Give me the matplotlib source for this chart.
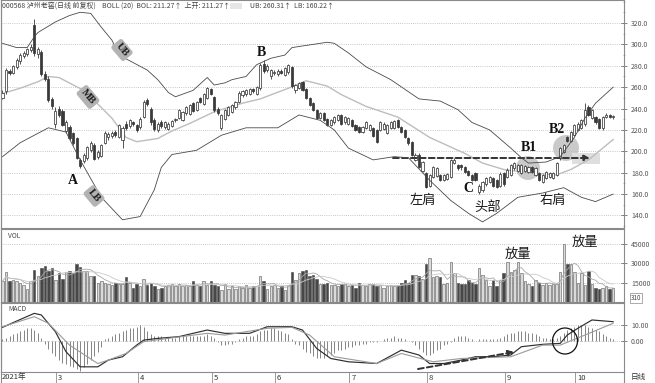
"""Luzhou Laojiao daily chart with BOLL, volume and MACD panels (head-and-shoulders bottom)."""
import numpy as np
import pandas as pd
import matplotlib
matplotlib.use("Agg")
import matplotlib.pyplot as plt
import matplotlib.transforms as mtransforms
from matplotlib.patches import Ellipse, Rectangle
from matplotlib.lines import Line2D

# --- daily candles (first bar is the last day of January) ---
open_ = [250, 256, 275, 273, 279, 284, 289, 291, 295, 318, 291, 293, 272, 268, 249, 226,
         240, 238, 219, 223, 217, 212, 192, 191, 194, 201, 206, 195, 196, 208, 213, 214,
         218, 213, 211, 226, 224, 227, 225, 223, 232, 248, 240, 229, 220, 227, 223, 221,
         224, 229, 231, 229, 236, 235, 245, 239, 250, 244, 250, 258, 251, 240, 222, 230,
         234, 237, 241, 246, 253, 254, 254, 258, 254, 259, 282, 276, 270, 273, 272, 275,
         271, 274, 279, 257, 259, 265, 258, 250, 245, 239, 231, 236, 230, 225, 227, 229,
         234, 227, 226, 229, 225, 223, 218, 222, 220, 222, 220, 220, 221, 217, 222, 222,
         229, 223, 220, 212, 209, 192, 197, 182, 180, 168, 176, 177, 178, 173, 174, 176,
         189, 187, 187, 185, 182, 178, 180, 162, 164, 169, 171, 175, 173, 168, 180, 176,
         178, 184, 182, 180, 182, 181, 185, 178, 180, 171, 175, 176, 175, 178, 194, 199,
         213, 210, 215, 220, 222, 226, 241, 231, 232, 230, 222, 232, 234, 232]
high = [257, 278, 277, 281, 287, 292, 294, 297, 300, 324, 298, 295, 275, 270, 251, 241,
        242, 240, 229, 225, 218, 213, 194, 198, 205, 210, 208, 201, 207, 219, 218, 219,
        220, 226, 224, 228, 230, 228, 226, 232, 248, 250, 241, 231, 227, 229, 228, 227,
        229, 231, 240, 238, 242, 244, 246, 247, 251, 255, 260, 259, 252, 241, 235, 240,
        242, 244, 247, 256, 257, 258, 259, 259, 261, 283, 285, 282, 277, 276, 277, 277,
        279, 282, 280, 263, 265, 266, 259, 251, 246, 240, 237, 237, 231, 230, 233, 235,
        235, 233, 232, 230, 226, 224, 224, 228, 226, 223, 221, 228, 227, 226, 228, 229,
        230, 224, 221, 213, 210, 198, 198, 191, 181, 179, 186, 185, 179, 179, 180, 193,
        194, 188, 188, 186, 183, 179, 181, 169, 172, 176, 177, 176, 174, 181, 181, 184,
        188, 190, 188, 188, 187, 186, 186, 185, 181, 179, 182, 181, 181, 190, 204, 207,
        214, 219, 226, 227, 230, 245, 243, 240, 233, 231, 233, 236, 235, 234]
low = [249, 254, 271, 272, 277, 282, 287, 289, 293, 289, 287, 270, 266, 246, 240, 222,
       232, 224, 217, 211, 206, 193, 184, 189, 192, 199, 192, 193, 195, 207, 211, 212,
       213, 212, 203, 220, 222, 224, 218, 221, 231, 242, 225, 219, 218, 222, 221, 220,
       223, 227, 230, 228, 234, 234, 237, 238, 245, 243, 249, 253, 237, 234, 220, 229,
       233, 236, 240, 245, 251, 252, 253, 255, 253, 257, 273, 274, 268, 271, 270, 272,
       270, 272, 259, 255, 258, 256, 249, 242, 238, 230, 230, 228, 224, 224, 226, 228,
       225, 226, 225, 223, 219, 217, 217, 221, 219, 213, 208, 219, 220, 216, 221, 221,
       222, 217, 212, 206, 196, 191, 184, 181, 166, 167, 175, 176, 172, 172, 173, 175,
       188, 183, 183, 180, 177, 172, 172, 160, 162, 168, 170, 167, 166, 167, 168, 175,
       177, 183, 181, 179, 181, 180, 180, 177, 172, 170, 174, 175, 174, 177, 192, 198,
       209, 209, 214, 219, 221, 224, 233, 230, 226, 221, 220, 231, 231, 230]
close = [255, 276, 273, 280, 285, 290, 292, 296, 298, 292, 296, 272, 268, 248, 242, 238,
         234, 225, 227, 212, 208, 194, 186, 197, 204, 208, 193, 199, 206, 217, 216, 217,
         215, 225, 222, 222, 229, 226, 220, 230, 246, 244, 227, 221, 226, 224, 227, 226,
         228, 230, 239, 237, 241, 243, 238, 246, 246, 254, 259, 254, 239, 236, 234, 239,
         241, 243, 246, 255, 256, 257, 258, 256, 260, 281, 275, 280, 276, 274, 275, 273,
         278, 281, 261, 262, 264, 257, 250, 243, 239, 231, 236, 229, 225, 229, 232, 234,
         226, 232, 231, 224, 220, 218, 223, 227, 225, 214, 209, 227, 226, 225, 227, 228,
         223, 218, 213, 208, 197, 197, 185, 190, 167, 178, 185, 184, 173, 178, 179, 192,
         192, 184, 185, 181, 178, 173, 173, 168, 171, 175, 176, 168, 167, 179, 169, 183,
         187, 189, 187, 187, 186, 185, 181, 184, 173, 178, 181, 180, 180, 189, 203, 206,
         210, 218, 225, 226, 229, 239, 234, 239, 227, 222, 232, 234, 232, 233]
volume_k = [16, 23, 16, 17, 16, 15, 13, 10, 16, 25, 20, 26, 28, 24, 26, 17,
            22, 18, 23, 24, 22, 29, 27, 24, 24, 20, 20, 15, 16, 15, 14, 13,
            15, 14, 14, 19, 15, 11, 14, 12, 18, 13, 15, 12, 10, 11, 12, 13,
            14, 12, 14, 12, 13, 12, 16, 13, 12, 16, 13, 16, 13, 12, 9, 14,
            10, 12, 10, 12, 11, 13, 11, 12, 12, 20, 16, 10, 12, 13, 11, 12,
            9, 13, 23, 17, 22, 24, 25, 20, 21, 18, 14, 14, 15, 13, 13, 12,
            14, 14, 12, 13, 11, 15, 13, 12, 14, 14, 12, 13, 11, 12, 13, 12,
            13, 15, 17, 15, 21, 21, 20, 18, 29, 34, 19, 20, 19, 14, 15, 31,
            22, 15, 14, 14, 17, 15, 14, 26, 21, 17, 12, 17, 12, 17, 22, 31,
            23, 25, 31, 22, 16, 14, 12, 17, 15, 13, 15, 13, 14, 14, 23, 45,
            29, 29, 23, 15, 22, 13, 24, 14, 11, 10, 11, 12, 10, 11]
macd_hist = [1, 2, 3, 4, 5, 6, 7, 8, 8, 7, 5, 2,
             -2, -5, -8, -10, -12, -14, -15, -16, -17, -18, -19, -17, -15, -12, -10, -7, -4,
             1, 2, 3, 4, 5, 6, 7, 8, 8, 9, 10, 9, 6, 4,
             3, 3, 3, 2, 2, 2, 2, 3, 3, 3, 3, 3, 3, 3, 3, 4, 3, 2,
             -1, -3, -3, -2, -2, -1,
             1, 2, 3, 3, 3, 4, 6, 7, 7, 8, 8, 7, 6, 5, 4, 1,
             -2, -3, -5, -7, -8, -10, -11, -11, -11, -10, -9, -8, -6, -6, -5, -4, -4, -3, -3,
             -2, -2, -1, -1, -1, 0,
             1, 2, 2, 3, 2, 2, 1, 0,
             -1, -3, -5, -7, -9, -9, -8, -6, -5, -3, -2, -1,
             2, 3, 3, 3, 2, 1,
             0, 1, 1, 1, 1, 1, 1,
             2, 3, 4, 5, 5, 6, 6, 6, 5, 5, 4, 3, 2, 2, 1, 1,
             2, 3, 5, 7, 8, 9, 10, 10, 10, 9, 8, 7, 6, 4, 3, 2, 1]

# --- BOLL(20) bands at sample days ---
ub_day = [-1, 3, 6, 8, 9, 14, 18, 21, 24, 27, 30, 32, 36, 40, 43, 46, 48, 53, 57, 59, 62, 64,
          68, 71, 75, 79, 81, 85, 91, 93, 97, 102, 109, 117, 123, 128, 132, 137, 143, 146,
          148, 153, 157, 161, 164, 167, 172]
ub_val = [301, 297, 297, 307, 311, 321, 327, 330, 329, 316, 304, 290, 283, 276, 267, 255, 251,
          257, 269, 262, 264, 267, 270, 281, 287, 290, 297, 299, 302, 301, 292, 279, 267, 249,
          247, 239, 227, 220, 203, 194, 189, 190, 195, 213, 231, 245, 260]
mb_day = [-1, 4, 9, 12, 15, 22, 27, 30, 34, 37, 43, 47, 52, 59, 67, 72, 80, 85, 91, 95, 102,
          111, 120, 130, 135, 141, 148, 156, 160, 165, 172]
mb_val = [254, 259, 265, 270, 269, 257, 241, 231, 213, 209, 212, 219, 226, 237, 245, 249, 259,
          266, 261, 253, 242, 232, 213, 198, 189, 183, 180, 178, 183, 192, 211]
lb_day = [-1, 4, 12, 17, 21, 27, 33, 38, 42, 44, 47, 54, 61, 68, 72, 77, 83, 89, 93, 97, 104,
          110, 114, 120, 126, 131, 135, 139, 145, 152, 158, 163, 167, 172]
lb_val = [195, 208, 222, 218, 192, 157, 136, 139, 164, 185, 197, 201, 215, 222, 222, 222, 234,
          229, 220, 203, 192, 195, 194, 173, 154, 142, 134, 142, 157, 161, 166, 157, 153, 160]

# --- MACD DIF / DEA read at sample days ---
dif_day = [-1, 3, 8, 10, 14, 17, 21, 26, 29, 33, 37, 39, 43, 49, 57, 62, 69, 74, 81, 84, 88,
           92, 97, 105, 112, 117, 120, 124, 129, 133, 138, 143, 146, 152, 157, 159, 162, 166, 172]
dif_val = [8.5, 12.5, 17.4, 16.4, 5.7, -7.0, -16.6, -16.6, -12.3, -10.2, -2.8, 0.4, 1.5, 2.6,
           6.8, 4.7, 4.7, 8.9, 8.9, 6.8, -4.9, -11.3, -13.4, -14.5, -6.0, -9.1, -14.5, -14.5,
           -12.3, -10.2, -10.2, -9.1, -3.8, -2.3, -1.7, 3.6, 7.9, 13.2, 12.1]
dea_day = [-1, 8, 12, 18, 26, 29, 34, 39, 46, 57, 62, 74, 81, 86, 93, 105, 112, 121, 129, 143,
           152, 157, 164, 172]
dea_val = [8.9, 15.3, 11.1, -2.8, -14.5, -12.3, -8.1, -0.6, 1.5, 4.7, 3.6, 7.9, 8.5, 3.6, -10.2,
           -14.5, -8.1, -13.4, -11.3, -10.2, -2.8, -2.8, 3.6, 11.1]

month_day = [-1, 15, 38, 59, 77, 98, 120, 142, 162]
month_label = ["2021年", "3", "4", "5", "6", "7", "8", "9", "10"]

W, H = 655, 383
plt.rcParams["font.family"] = ["Noto Sans CJK SC", "DejaVu Sans"]
DARK = "#3a3a3a"
GRID = dict(linestyle=(0, (1, 1.6)), color="#b4b4b4", linewidth=0.6)


def box(x0, y0, x1, y1):
    return [x0 / W, 1 - y1 / H, (x1 - x0) / W, (y1 - y0) / H]


def fpt(px, py):
    return px / W, 1 - py / H


fig = plt.figure(figsize=(W / 100, H / 100), dpi=100)
ax_p = fig.add_axes(box(1, 0, 624, 228))
ax_v = fig.add_axes(box(1, 229, 624, 302), sharex=ax_p)
ax_m = fig.add_axes(box(1, 303, 624, 372), sharex=ax_p)

days = np.arange(len(close)) - 1
o, h, l, c = (np.array(a, dtype=float) for a in (open_, high, low, close))
up = c >= o

# --- price panel ---
ax_p.vlines(days, l, h, color=DARK, lw=0.6, zorder=2)
body_lo = np.minimum(o, c)
body_h = np.maximum(np.abs(c - o), 0.7)
ax_p.bar(days[up], body_h[up], bottom=body_lo[up], width=0.6, facecolor="white",
         edgecolor=DARK, lw=0.55, zorder=3)
ax_p.bar(days[~up], body_h[~up], bottom=body_lo[~up], width=0.6, facecolor=DARK,
         edgecolor=DARK, lw=0.55, zorder=3)
ax_p.plot(ub_day, ub_val, color="#4a4a4a", lw=0.6, zorder=4)
ax_p.plot(mb_day, mb_val, color="#bdbdbd", lw=1.0, zorder=1.5)
ax_p.plot(lb_day, lb_val, color="#4a4a4a", lw=0.6, zorder=4)
ax_p.set_ylim(128.3, 341.5)
ax_p.set_yticks(np.arange(140, 321, 20))
ax_p.set_yticks(np.arange(130, 341, 10), minor=True)
ax_p.yaxis.set_major_formatter("{x:.1f}")

# --- volume panel ---
vol = np.array(volume_k) * 1000.0
ax_v.bar(days[up], vol[up], width=0.7, facecolor="#dadada", edgecolor="#555555", lw=0.4)
ax_v.bar(days[~up], vol[~up], width=0.7, facecolor="#474747", edgecolor="#474747", lw=0.4)
vs = pd.Series(vol)
ax_v.plot(days, vs.rolling(5, min_periods=1).mean(), color="#a8a8a8", lw=0.6)
ax_v.plot(days, vs.rolling(10, min_periods=1).mean(), color="#c9c9c9", lw=0.6)
ax_v.set_ylim(0, 56200)
ax_v.set_yticks([15000, 30000, 45000])
ax_v.yaxis.set_major_formatter("{x:.0f}")

# --- MACD panel ---
ax_m.vlines(days, 0, macd_hist, color="#707070", lw=0.6)
ax_m.plot(dif_day, dif_val, color="#2e2e2e", lw=0.85)
ax_m.plot(dea_day, dea_val, color="#9a9a9a", lw=0.8)
ax_m.set_ylim(-19.9, 24.0)
ax_m.set_yticks([0, 10])
ax_m.yaxis.set_major_formatter("{x:.2f}")

for ax in (ax_p, ax_v, ax_m):
    ax.set_xlim(-1.42, 175.07)
    ax.yaxis.tick_right()
    ax.tick_params(axis="x", bottom=False, labelbottom=False)
    ax.tick_params(axis="y", which="major", direction="inout", length=4, width=0.5,
                   colors="#555555", labelsize=5, pad=3)
    ax.tick_params(axis="y", which="minor", direction="inout", length=2, width=0.4,
                   colors="#777777")
    ax.yaxis.grid(True, which="major", **GRID)
    ax.set_axisbelow(True)
    for sp in ax.spines.values():
        sp.set_color("#8a8a8a")
        sp.set_linewidth(0.8)

# panel captions
fig.text(*fpt(2, 6), "000568 泸州老窖(日线 前复权)", fontsize=5, color="#444", va="center")
fig.text(*fpt(102, 6), "BOLL (20)  BOL: 211.27↑  上开: 211.27↑", fontsize=5, color="#444",
         va="center")
fig.add_artist(Rectangle(fpt(230, 9), 12 / W, 6 / H, transform=fig.transFigure,
                         fc="#e6e6e6", ec="none"))
fig.text(*fpt(250, 6), "UB: 260.31↑  LB: 160.22↑", fontsize=5, color="#444", va="center")
fig.text(*fpt(8, 236), "VOL", fontsize=4.8, color="#444", va="center")
fig.text(*fpt(8, 309), "MACD", fontsize=4.8, color="#444", va="center")
fig.text(*fpt(636, 298), "310", fontsize=4.5, color="#444", va="center", ha="center",
         bbox=dict(boxstyle="square,pad=0.15", fc="white", ec="#888", lw=0.5))

# date row under the MACD panel
trans = mtransforms.blended_transform_factory(ax_m.transData, fig.transFigure)
for d, lab in zip(month_day, month_label):
    if d > 0:
        fig.add_artist(Line2D([d - 0.7, d - 0.7], [0, 11 / H], transform=trans,
                              color="#8a8a8a", lw=0.6))
    fig.text(d - 0.2, 5.5 / H, lab, transform=trans, fontsize=5.5, color="#333",
             va="center", ha="left")
fig.add_artist(Line2D([624 / W, 624 / W], [0, 11 / H], transform=fig.transFigure,
                      color="#8a8a8a", lw=0.8))
fig.text(*fpt(638, 377), "日线", fontsize=5.5, color="#333", va="center", ha="center")
fig.add_artist(Line2D([1 / W, 1 / W], [0, 1], transform=fig.transFigure, color="#8a8a8a",
                      lw=0.8))

# band labels
for lab, (px, py) in {"UB": (122, 50), "MB": (88, 97), "LB": (94, 196)}.items():
    fig.text(*fpt(px, py), lab, rotation=-50, ha="center", va="center", fontsize=7.5,
             family="Liberation Serif", fontweight="bold", color="#1e1e1e",
             bbox=dict(boxstyle="round,pad=0.25", fc="#b3b3b3", ec="none"))

# point letters
for lab, (px, py) in {"A": (73, 181), "B": (261, 52), "C": (468, 189),
                      "B1": (529, 148), "B2": (557, 130)}.items():
    fig.text(*fpt(px, py), lab, ha="center", va="center", fontsize=10,
             family="Liberation Serif", fontweight="bold", color="#111")

for lab, (px, py) in {"左肩": (423, 201), "头部": (488, 207), "右肩": (553, 201)}.items():
    fig.text(*fpt(px, py), lab, ha="center", va="center", fontsize=9.5, color="#1a1a1a")
for px, py in [(518, 254), (585, 242)]:
    fig.text(*fpt(px, py), "放量", ha="center", va="center", fontsize=9.5, color="#1a1a1a")

# highlight circles around B1 / B2 and neckline arrow
for px, py, r in [(528, 168, 12), (566, 148, 13)]:
    ax_p.add_patch(Ellipse(fpt(px, py), 2 * r / W, 2 * r / H, transform=fig.transFigure,
                           fc="#b9b9b9", ec="none", alpha=0.75, zorder=1))
ax_p.add_patch(Rectangle(fpt(572, 164), 28 / W, 11 / H, transform=fig.transFigure,
                         fc="#dedede", ec="none", zorder=1))
ax_p.annotate("", xy=(590, H - 158), xycoords="figure pixels",
              xytext=(393, H - 158), textcoords="figure pixels",
              arrowprops=dict(arrowstyle="-|>", linestyle=(0, (3, 1.6)), color="#333",
                              lw=1.4, mutation_scale=8, shrinkA=0, shrinkB=0))

# MACD divergence arrow and golden-cross circle
ax_m.annotate("", xy=(514, H - 352), xycoords="figure pixels",
              xytext=(418, H - 369), textcoords="figure pixels",
              arrowprops=dict(arrowstyle="-|>", linestyle=(0, (3, 1.6)), color="#333",
                              lw=1.4, mutation_scale=8, shrinkA=0, shrinkB=0))
ax_m.add_patch(Ellipse(fpt(565, 341), 25 / W, 26 / H, transform=fig.transFigure,
                       fc="none", ec="#111", lw=0.9, zorder=5))

fig.savefig("out.png", dpi=100)
